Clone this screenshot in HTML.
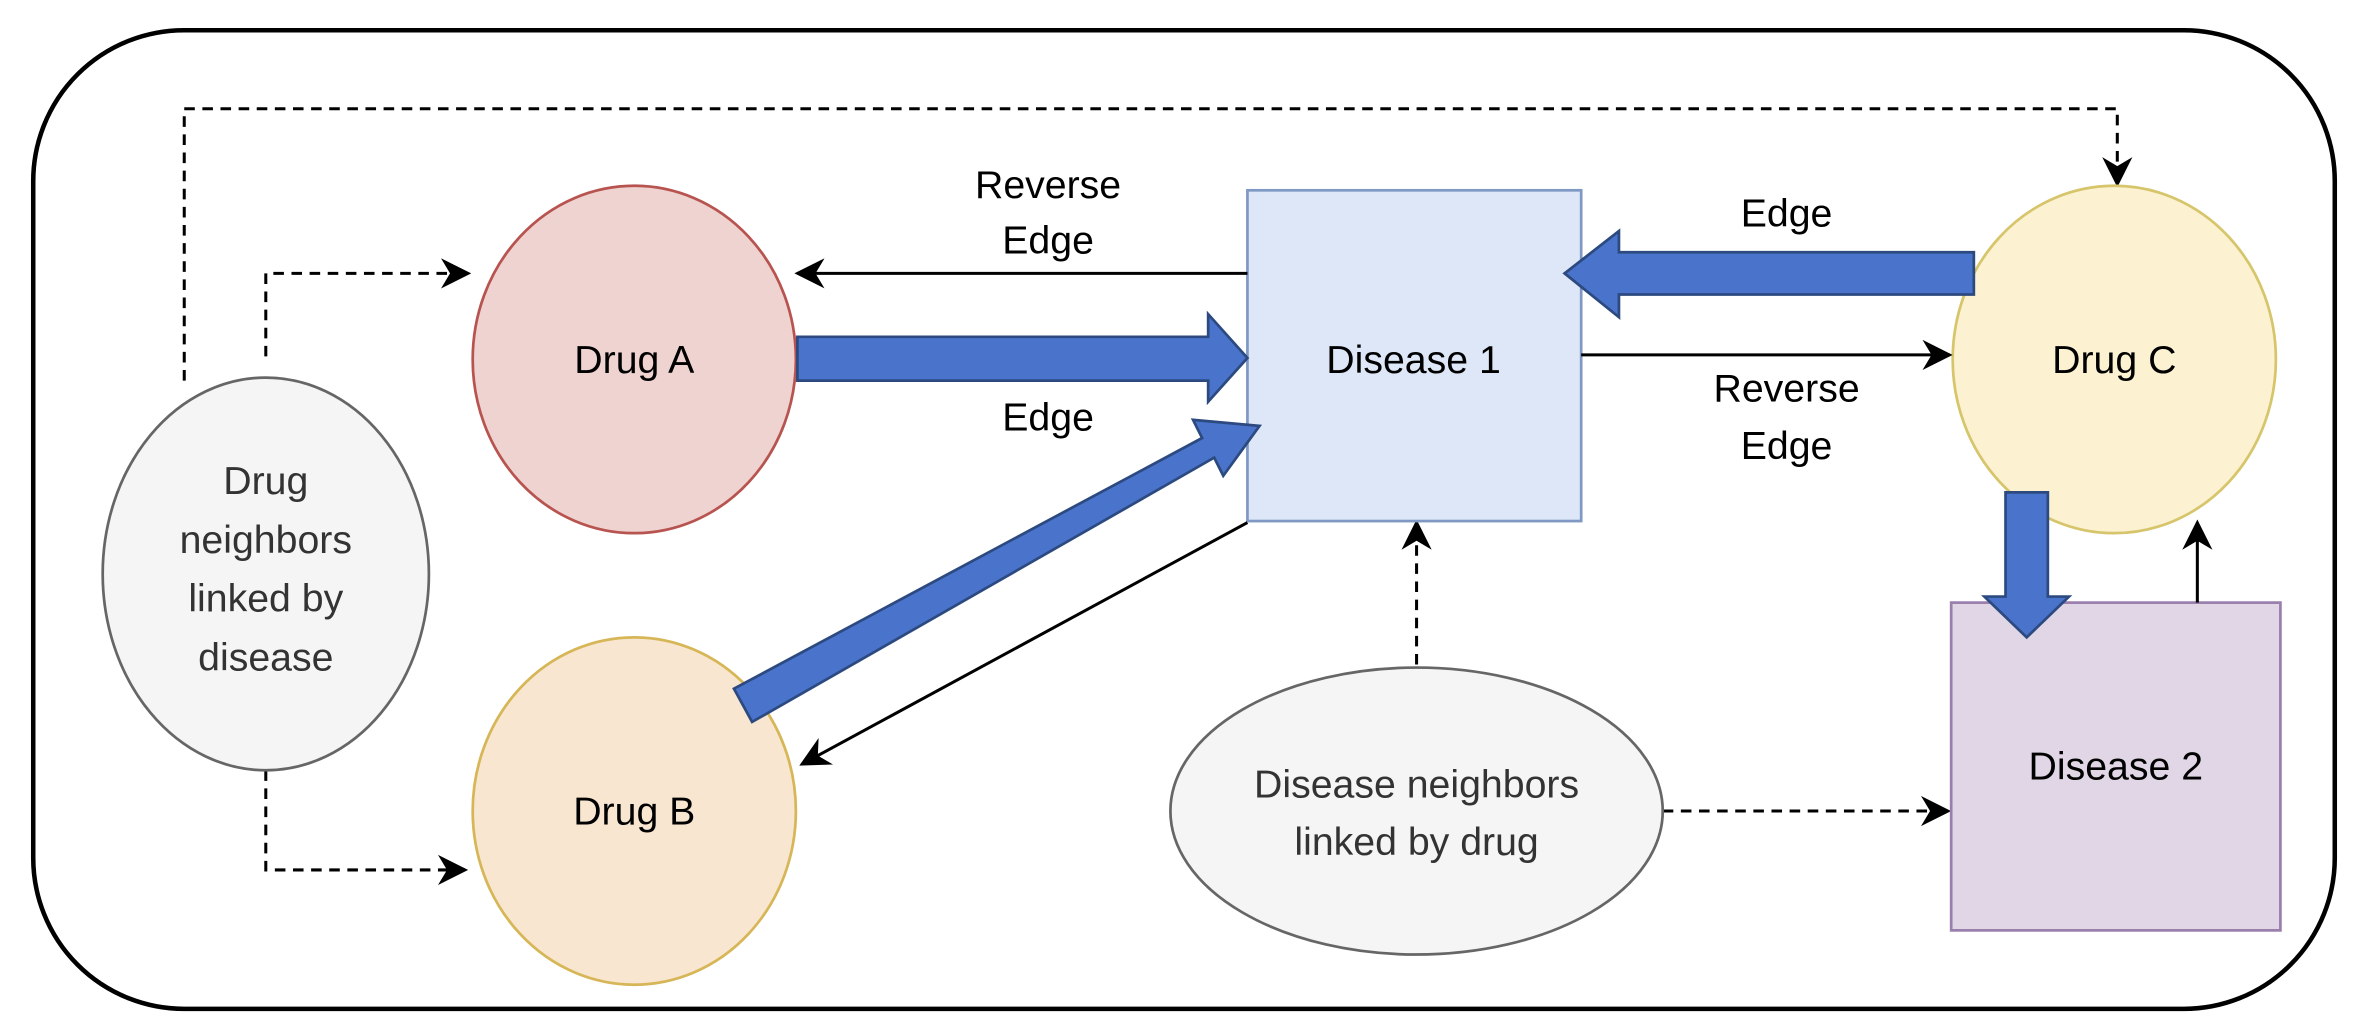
<!DOCTYPE html>
<html><head><meta charset="utf-8"><style>
html,body{margin:0;padding:0;background:#fff;}
svg{display:block;}
text{font-family:"Liberation Sans",Arial,sans-serif;font-size:26px;text-anchor:middle;fill:#000;}
text.g{fill:#333;}
</style></head><body>
<svg width="2368" height="1024" viewBox="0 0 1568 678" preserveAspectRatio="none" xmlns="http://www.w3.org/2000/svg">
<defs>
<marker id="ah" viewBox="0 0 20 20" refX="18" refY="10" markerWidth="20" markerHeight="20" markerUnits="userSpaceOnUse" orient="auto">
<path d="M0,0 L20,10 L0,20 L6,10 Z" fill="#000"/>
</marker>
</defs>
<rect x="22" y="20" width="1524" height="648" rx="100" ry="100" fill="#fff" stroke="#000" stroke-width="3"/>

<path d="M122,252 V72 H1402 V122" fill="none" stroke="#000" stroke-width="2" stroke-dasharray="7,5" marker-end="url(#ah)"/>
<path d="M176,236 V181 H310" fill="none" stroke="#000" stroke-width="2" stroke-dasharray="7,5" marker-end="url(#ah)"/>
<path d="M176,510 V576 H308" fill="none" stroke="#000" stroke-width="2" stroke-dasharray="7,5" marker-end="url(#ah)"/>
<path d="M938,440 V346" fill="none" stroke="#000" stroke-width="2" stroke-dasharray="7,5" marker-end="url(#ah)"/>
<path d="M1101,537 H1290" fill="none" stroke="#000" stroke-width="2" stroke-dasharray="7,5" marker-end="url(#ah)"/>

<ellipse cx="420" cy="238" rx="107" ry="115" fill="#efd3d1" stroke="#b85450" stroke-width="1.8"/>
<ellipse cx="420" cy="537" rx="107" ry="115" fill="#f8e6d0" stroke="#d6b656" stroke-width="1.8"/>
<ellipse cx="176" cy="380" rx="108" ry="130" fill="#f5f5f5" stroke="#666" stroke-width="1.8"/>
<rect x="826" y="126" width="221" height="219" fill="#dde7f7" stroke="#7f99c4" stroke-width="1.8"/>
<ellipse cx="1400" cy="238" rx="107" ry="115" fill="#fcf2d2" stroke="#d6c56b" stroke-width="1.8"/>
<rect x="1292" y="399" width="218" height="217" fill="#e0d6e5" stroke="#9a7fac" stroke-width="1.8"/>
<ellipse cx="938" cy="537" rx="163" ry="95" fill="#f5f5f5" stroke="#666" stroke-width="1.8"/>

<path d="M826,181 H528" fill="none" stroke="#000" stroke-width="2" marker-end="url(#ah)"/>
<path d="M1047,235 H1291" fill="none" stroke="#000" stroke-width="2" marker-end="url(#ah)"/>
<path d="M826,346 L531,506" fill="none" stroke="#000" stroke-width="2" marker-end="url(#ah)"/>
<path d="M1455,399 V346" fill="none" stroke="#000" stroke-width="2" marker-end="url(#ah)"/>

<polygon points="528,223 800,223 800,208 826,237 800,266 800,252 528,252" fill="#4a74cc" stroke="#2c4a80" stroke-width="1.8"/>
<polygon points="1307,167 1072,167 1072,153 1036,181 1072,210 1072,195 1307,195" fill="#4a74cc" stroke="#2c4a80" stroke-width="1.8"/>
<polygon points="1328,326 1356,326 1356,395 1370,395 1342,422 1314,395 1328,395" fill="#4a74cc" stroke="#2c4a80" stroke-width="1.8"/>
<polygon points="486,456 796,290 790,278 834,282 810,315 804,303 498,478" fill="#4a74cc" stroke="#2c4a80" stroke-width="1.8"/>

<text x="420" y="247">Drug A</text>
<text x="420" y="546">Drug B</text>
<text x="1400" y="247">Drug C</text>
<text x="936" y="247">Disease 1</text>
<text x="1401" y="516">Disease 2</text>
<text x="694" y="131">Reverse</text>
<text x="694" y="168">Edge</text>
<text x="694" y="285">Edge</text>
<text x="1183" y="150">Edge</text>
<text x="1183" y="266">Reverse</text>
<text x="1183" y="304">Edge</text>
<text class="g" x="176" y="327">Drug</text>
<text class="g" x="176" y="366">neighbors</text>
<text class="g" x="176" y="405">linked by</text>
<text class="g" x="176" y="444">disease</text>
<text class="g" x="938" y="528">Disease neighbors</text>
<text class="g" x="938" y="566">linked by drug</text>
</svg>
</body></html>
